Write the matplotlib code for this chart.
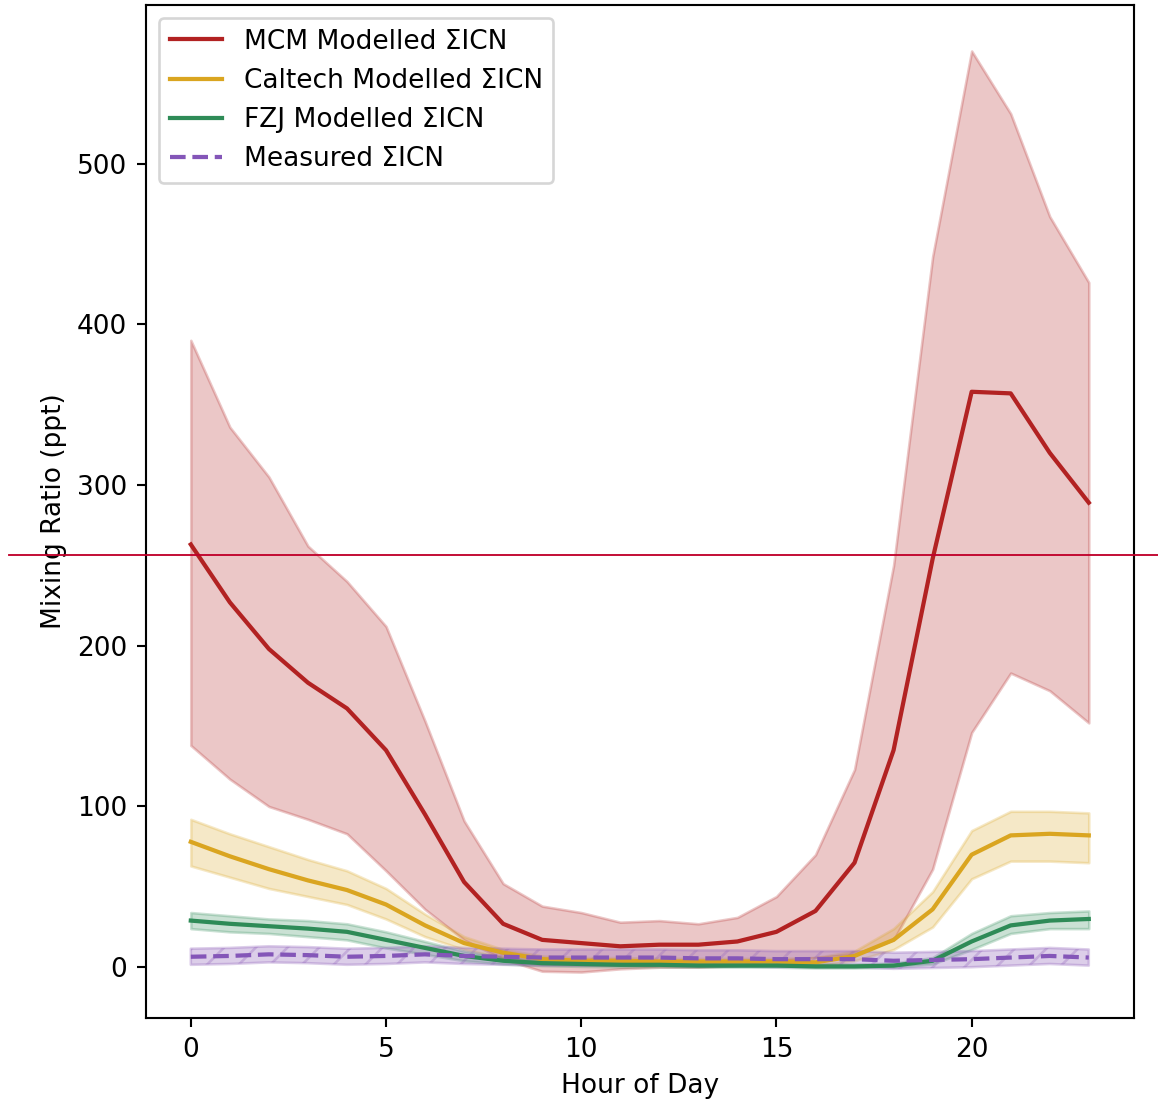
import numpy as np
import matplotlib
matplotlib.use("Agg")
import matplotlib.pyplot as plt
from matplotlib.lines import Line2D

hours = list(range(24))

mcm_mean = [263, 227, 198, 177, 161, 135, 95, 53, 27, 17, 15, 13, 14, 14, 16, 22, 35, 65, 135, 254, 358, 357, 320, 289]
mcm_upper = [390, 336, 305, 262, 240, 212, 153, 91, 52, 38, 34, 28, 29, 27, 31, 44, 70, 123, 250, 442, 570, 531, 467, 426]
mcm_lower = [138, 117, 100, 92, 83, 60, 36, 17, 5, -2.5, -3, -1, 0, 0, 1, 4, 6, 8, 17, 61, 146, 183, 172, 152]

caltech_mean = [78, 69, 61, 54, 48, 39, 26, 15, 9, 5, 4, 4, 3.5, 3.5, 3.5, 3.5, 3, 7, 17, 36, 70, 82, 83, 82]
caltech_upper = [92, 83, 75, 67, 60, 49, 33, 19, 11, 7, 6, 6, 5.5, 5.5, 5.5, 5.5, 6, 10, 24, 47, 85, 97, 97, 96]
caltech_lower = [63, 56, 49, 44, 39, 30, 19, 11, 6, 3, 2, 2, 1.5, 1.5, 1.5, 1.5, 1, 4, 11, 25, 55, 66, 66, 65]

fzj_mean = [29, 27, 25.5, 24, 22, 17, 12, 7, 4, 2.5, 2, 1.5, 1.5, 1, 1, 1, 0.5, 0.5, 1, 4, 16, 26, 29, 30]
fzj_upper = [34, 32, 30, 29, 27, 22, 16, 10, 6, 4, 3.5, 3, 3, 2.5, 2.5, 2.5, 2, 2, 2.5, 6, 21, 32, 34, 35]
fzj_lower = [24, 22, 21, 19, 17, 12, 8, 4, 2, 1, 0.5, 0.2, 0.2, 0, 0, 0, -0.5, -0.5, 0, 2, 11, 21, 24, 24]

meas_mean = [6.5, 7, 8, 7.5, 6.5, 7, 8, 7, 6.5, 6, 6, 6, 6, 5.5, 5.5, 5, 5, 5, 4, 4.5, 5, 6, 7, 6]
meas_upper = [11.5, 12, 13, 12.5, 11.5, 12, 13, 12, 11.5, 11, 11, 11, 11, 10.5, 10.5, 10, 10, 10, 9, 9.5, 10, 11, 12, 11]
meas_lower = [1.5, 2, 3, 2.5, 1.5, 2, 3, 2, 1.5, 1, 1, 1, 1, 0.5, 0.5, 0, 0, 0, -1, -0.5, 0, 1, 2, 1]

fig, ax = plt.subplots(figsize=(1158 / 190, 1103 / 190), dpi=190)
fig.subplots_adjust(left=0.126, right=0.979, bottom=0.077, top=0.9955)

ax.plot(hours, mcm_mean, color='firebrick', lw=1.6, label='MCM Modelled ΣICN')
ax.fill_between(hours, mcm_lower, mcm_upper, color='firebrick', alpha=0.25)

ax.plot(hours, caltech_mean, color='goldenrod', lw=1.6, label='Caltech Modelled ΣICN')
ax.fill_between(hours, caltech_lower, caltech_upper, color='goldenrod', alpha=0.25)

ax.plot(hours, fzj_mean, color='seagreen', lw=1.6, label='FZJ Modelled ΣICN')
ax.fill_between(hours, fzj_lower, fzj_upper, color='seagreen', alpha=0.25)

ax.plot(hours, meas_mean, color='#8456b8', lw=1.6, linestyle='--', label='Measured ΣICN')
ax.fill_between(hours, meas_lower, meas_upper, color='tab:purple', alpha=0.32, hatch='//')

ax.set_xlabel('Hour of Day')
ax.set_ylabel('Mixing Ratio (ppt)')
ax.set_xticks([0, 5, 10, 15, 20])
ax.legend(loc='upper left')

# red horizontal marker line across the figure
yline = 1 - 555 / 1103
fig.add_artist(Line2D([9 / 1158, 1.0], [yline, yline], color='#C0002A', lw=0.7))

fig.savefig('out.png')
